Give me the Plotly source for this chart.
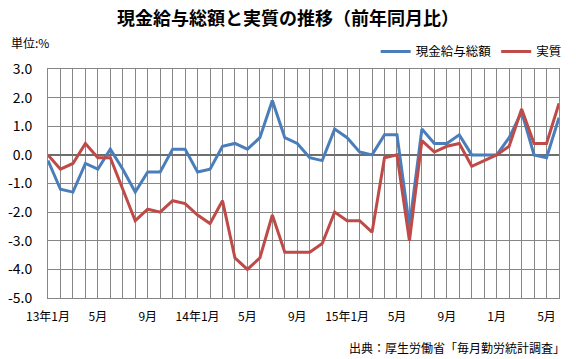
import plotly.graph_objects as go

# Months: 2013-01 .. 2016-06 (42 months)
months = list(range(42))
tick_labels = ["13年1月", "", "", "", "5月", "", "", "", "9月", "", "", "",
               "14年1月", "", "", "", "5月", "", "", "", "9月", "", "", "",
               "15年1月", "", "", "", "5月", "", "", "", "9月", "", "", "",
               "1月", "", "", "", "5月", ""]

nominal = [-0.2, -1.2, -1.3, -0.3, -0.5, 0.2, -0.5, -1.3, -0.6, -0.6, 0.2, 0.2,
           -0.6, -0.5, 0.3, 0.4, 0.2, 0.6, 1.9, 0.6, 0.4, -0.1, -0.2, 0.9,
           0.6, 0.1, 0.0, 0.7, 0.7, -2.5, 0.9, 0.4, 0.4, 0.7, 0.0, 0.0,
           0.0, 0.6, 1.5, 0.0, -0.1, 1.3]
real = [0.0, -0.5, -0.3, 0.4, -0.1, -0.1, -1.2, -2.3, -1.9, -2.0, -1.6, -1.7,
        -2.1, -2.4, -1.6, -3.6, -4.0, -3.6, -2.1, -3.4, -3.4, -3.4, -3.1, -2.0,
        -2.3, -2.3, -2.7, -0.1, 0.0, -3.0, 0.5, 0.1, 0.3, 0.4, -0.4, -0.2,
        0.0, 0.3, 1.6, 0.4, 0.4, 1.8]

y_ticks = [3, 2, 1, 0, -1, -2, -3, -4, -5]
y_tick_text = ["3.0", "2.0", "1.0", "0.0", "-1.0", "-2.0", "-3.0", "-4.0", "-5.0"]

FONT = "Noto Sans CJK JP"
GRID = "#868686"

fig = go.Figure()
fig.add_trace(go.Scatter(x=months, y=nominal, mode="lines", name="現金給与総額",
                         line=dict(color="#4A7EBB", width=3)))
fig.add_trace(go.Scatter(x=months, y=real, mode="lines", name="実質",
                         line=dict(color="#BE4B48", width=3)))

fig.update_layout(
    width=576, height=359,
    margin=dict(l=48, r=9, t=69, b=61),
    paper_bgcolor="white", plot_bgcolor="white",
    font=dict(family=FONT, color="#000000", size=12),
    title=dict(text="<b>現金給与総額と実質の推移（前年同月比）</b>",
               x=0.5, xanchor="center", y=1 - 19 / 359, yanchor="middle",
               font=dict(size=18, family=FONT, color="#000000")),
    showlegend=True,
    legend=dict(orientation="h", x=1.015, xanchor="right", y=1.075, yanchor="middle",
                font=dict(size=12.5, family=FONT), bgcolor="rgba(0,0,0,0)",
                itemwidth=30, tracegroupgap=0),
    xaxis=dict(range=[0, 41], tickmode="array", tickvals=months, ticktext=tick_labels,
               showgrid=True, gridcolor=GRID, gridwidth=1, zeroline=False,
               showline=True, linecolor=GRID, linewidth=1, mirror=True,
               ticks="outside", ticklen=8, tickcolor="rgba(0,0,0,0)",
               tickfont=dict(size=12, family=FONT, color="#000000")),
    yaxis=dict(range=[-5, 3], tickmode="array", tickvals=y_ticks, ticktext=y_tick_text,
               showgrid=True, gridcolor=GRID, gridwidth=1,
               zeroline=True, zerolinecolor="#6E6E6E", zerolinewidth=2,
               showline=True, linecolor=GRID, linewidth=1, mirror=True,
               ticks="outside", ticklen=12, tickcolor="rgba(0,0,0,0)",
               tickfont=dict(size=14, family=FONT, color="#000000")),
    annotations=[
        dict(text="単位:%", xref="paper", yref="paper", x=-0.077, y=(298 - 43) / 228.7,
             xanchor="left", yanchor="middle", showarrow=False,
             font=dict(size=12, family=FONT, color="#000000")),
        dict(text="出典：厚生労働省「毎月勤労統計調査」", xref="paper", yref="paper",
             x=(575 - 48) / 518.7, y=(298 - 347) / 228.7,
             xanchor="right", yanchor="middle", showarrow=False,
             font=dict(size=12, family=FONT, color="#000000")),
    ],
)

fig.write_html("out.html", config={"displayModeBar": False},
               post_script="document.body.style.margin='0';document.body.style.overflow='hidden';")
